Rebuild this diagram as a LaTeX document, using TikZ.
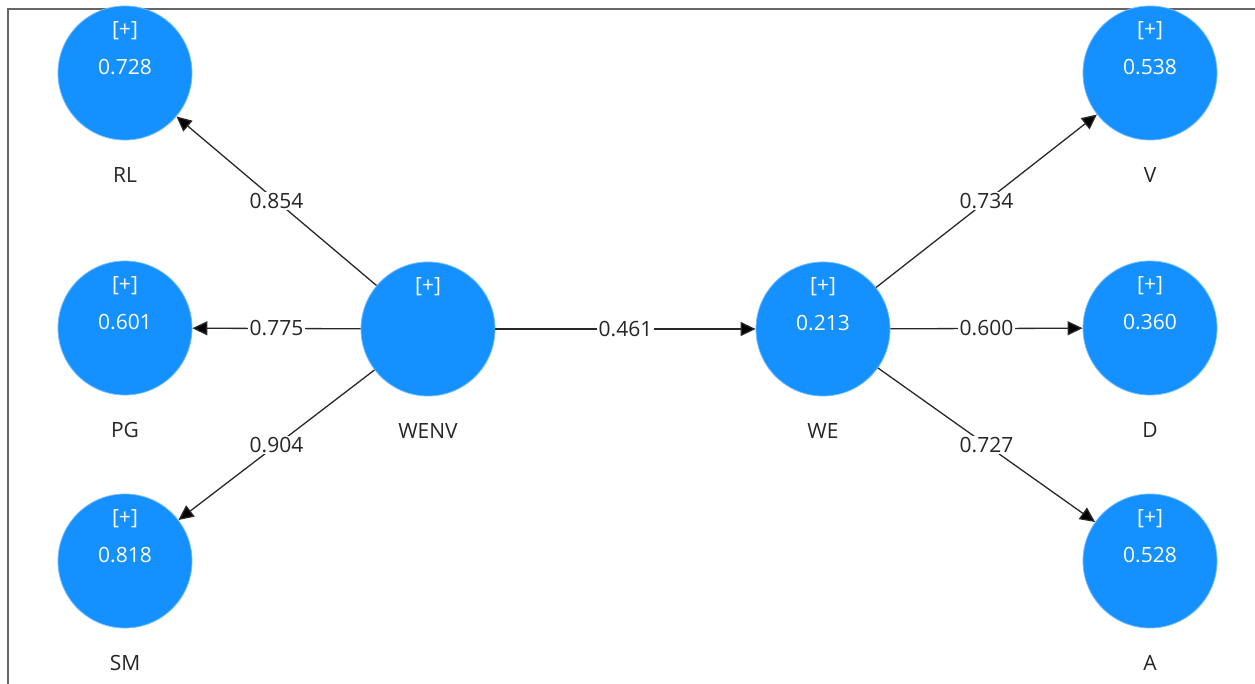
\documentclass[tikz,border=0pt]{standalone}
\usepackage{fontspec}
\setmainfont{Open Sans}
\usetikzlibrary{arrows.meta}
\definecolor{lvblue}{RGB}{20,144,255}
\definecolor{lineclr}{RGB}{40,40,40}

\begin{document}
\begin{tikzpicture}[x=1pt, y=-1pt,
    lv/.style={circle, fill=lvblue, draw=lvblue!60!white, line width=0.8pt, minimum size=134pt, inner sep=0pt},
    intext/.style={text=white, inner sep=0pt, font=\fontsize{21}{25}\selectfont},
    nametext/.style={text=black!85, inner sep=0pt, font=\fontsize{21}{25}\selectfont},
    wt/.style={fill=white, inner sep=1.5pt, text=black!85, font=\fontsize{21}{25}\selectfont},
    conn/.style={draw=lineclr, line width=1.3pt, -{Triangle[length=15pt,width=14pt,fill=black]}}]
                    \useasboundingbox (0,0) rectangle (1255,684);
                    \draw[black!60, line width=1.3pt] (1262,9) -- (8,9) -- (8,692);
                    % Nodes
                    \node[lv] (RL) at (125,73) {};
                    \node[lv] (PG) at (125,328) {};
                    \node[lv] (SM) at (125,561) {};
                    \node[lv] (WENV) at (428,329) {};
                    \node[lv] (WE) at (823,329) {};
                    \node[lv] (V) at (1150,73) {};
                    \node[lv] (D) at (1150,328) {};
                    \node[lv] (A) at (1150,561) {};
                    % Texts in the circles
                    \node[intext] (RLp) at ([yshift=42pt]RL.center) {[+]};
                    \node[intext] (RLr) at ([yshift=6pt]RL.center) {0.728};
                    \node[intext] (PGp) at ([yshift=42pt]PG.center) {[+]};
                    \node[intext] (PGr) at ([yshift=6pt]PG.center) {0.601};
                    \node[intext] (SMp) at ([yshift=42pt]SM.center) {[+]};
                    \node[intext] (SMr) at ([yshift=6pt]SM.center) {0.818};
                    \node[intext] (WENVp) at ([yshift=42pt]WENV.center) {[+]};
                    \node[intext] (WEp) at ([yshift=42pt]WE.center) {[+]};
                    \node[intext] (WEr) at ([yshift=6pt]WE.center) {0.213};
                    \node[intext] (Vp) at ([yshift=42pt]V.center) {[+]};
                    \node[intext] (Vr) at ([yshift=6pt]V.center) {0.538};
                    \node[intext] (Dp) at ([yshift=42pt]D.center) {[+]};
                    \node[intext] (Dr) at ([yshift=6pt]D.center) {0.360};
                    \node[intext] (Ap) at ([yshift=42pt]A.center) {[+]};
                    \node[intext] (Ar) at ([yshift=6pt]A.center) {0.528};
                    % Names
                    \node[nametext] (RLn) at ([yshift=-102pt]RL.center) {RL};
                    \node[nametext] (PGn) at ([yshift=-102pt]PG.center) {PG};
                    \node[nametext] (SMn) at ([yshift=-102pt]SM.center) {SM};
                    \node[nametext] (WENVn) at ([yshift=-102pt]WENV.center) {WENV};
                    \node[nametext] (WEn) at ([yshift=-102pt]WE.center) {WE};
                    \node[nametext] (Vn) at ([yshift=-102pt]V.center) {V};
                    \node[nametext] (Dn) at ([yshift=-102pt]D.center) {D};
                    \node[nametext] (An) at ([yshift=-102pt]A.center) {A};
                    % Edges
                    \draw[conn] (WENV) -- node[wt] {0.854} (RL);
                    \draw[conn] (WENV) -- node[wt] {0.775} (PG);
                    \draw[conn] (WENV) -- node[wt] {0.904} (SM);
                    \draw[conn] (WENV) -- node[wt] {0.461} (WE);
                    \draw[conn] (WE) -- node[wt] {0.734} (V);
                    \draw[conn] (WE) -- node[wt] {0.600} (D);
                    \draw[conn] (WE) -- node[wt] {0.727} (A);
\end{tikzpicture}
\end{document}
